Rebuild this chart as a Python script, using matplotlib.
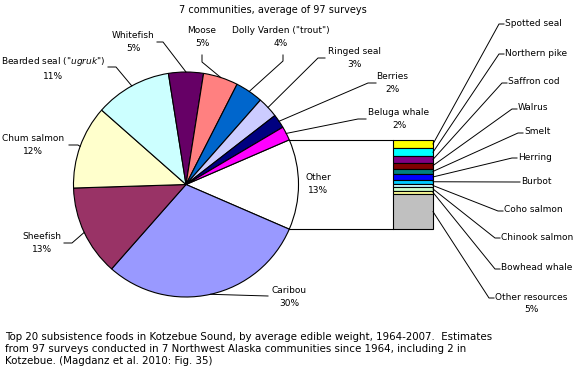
import numpy as np
import matplotlib

matplotlib.use("Agg")
import matplotlib.pyplot as plt

# main pie, clockwise, starting with the "Other" slice centred at 3 o'clock
pie_labels = ["Other", "Caribou", "Sheefish", "Chum salmon", 'Bearded seal ("$\\it{ugruk}$")',
              "Whitefish", "Moose", 'Dolly Varden ("trout")', "Ringed seal", "Berries", "Beluga whale"]
pie_values = [13, 30, 13, 12, 11, 5, 5, 4, 3, 2, 2]
pie_colors = ["#FFFFFF", "#9999FF", "#993366", "#FFFFCC", "#CCFFFF", "#660066",
              "#FF8080", "#0066CC", "#CCCCFF", "#000080", "#FF00FF"]

# breakdown of "Other", top to bottom of the stacked bar
sub_labels = ["Spotted seal", "Northern pike", "Saffron cod", "Walrus", "Smelt", "Herring",
              "Burbot", "Coho salmon", "Chinook salmon", "Bowhead whale", "Other resources"]
sub_values = [1.2, 1.2, 0.9, 0.9, 0.8, 0.8, 0.6, 0.5, 0.5, 0.5, 5.1]
sub_colors = ["#FFFF00", "#00FFFF", "#800080", "#800000", "#008080", "#0000FF",
              "#00CCFF", "#CCFFFF", "#CCFFCC", "#FFFF99", "#C0C0C0"]

title = "7 communities, average of 97 surveys"
caption = ("Top 20 subsistence foods in Kotzebue Sound, by average edible weight, 1964-2007.  Estimates\n"
           "from 97 surveys conducted in 7 Northwest Alaska communities since 1964, including 2 in\n"
           "Kotzebue. (Magdanz et al. 2010: Fig. 35)")

W, H = 579, 375
LW = 0.8
FS = 6.5


def px(x, y):
    # pixel position (origin top-left) -> data coords
    return x, H - y


fig = plt.figure(figsize=(W / 100, H / 100), dpi=100)
ax = fig.add_axes([0, 0, 1, 1])

cx, cy = px(186, 184.5)
R = 112.5
total = sum(pie_values)
start = 360 * pie_values[0] / total / 2
wedges, _ = ax.pie(pie_values, colors=pie_colors, startangle=start, counterclock=False,
                   center=(cx, cy), radius=R,
                   wedgeprops=dict(edgecolor="black", linewidth=LW))

# leader layout for main pie labels: text centre, then path from near-wedge to text (pixels)
main_layout = {
    "Other": ((318, 184), None),
    "Caribou": ((289, 297), [(268, 296)]),
    "Sheefish": ((42, 243), [(72, 243), (64, 243)]),
    "Chum salmon": ((33, 145), [(78, 145), (69, 145)]),
    'Bearded seal ("$\\it{ugruk}$")': ((53, 68), [(116, 67), (108, 67)]),
    "Whitefish": ((133, 42), [(163, 42), (157, 42)]),
    "Moose": ((202, 37), [(202, 62), (202, 55)]),
    'Dolly Varden ("trout")': ((281, 37), [(283, 61), (283, 55)]),
    "Ringed seal": ((354, 58), [(318, 58), (325, 58)]),
    "Berries": ((392, 83), [(368, 83), (376, 83)]),
    "Beluga whale": ((399, 119), [(358, 119), (366, 119)]),
}

for w, lab, val in zip(wedges, pie_labels, pie_values):
    (tx, ty), path = main_layout[lab]
    ax.text(*px(tx, ty), f"{lab}\n{round(100 * val / total)}%", ha="center", va="center",
            fontsize=FS, linespacing=1.45)
    if path:
        mid = np.deg2rad((w.theta1 + w.theta2) / 2)
        xs = [cx + R * np.cos(mid)] + [px(*p)[0] for p in path]
        ys = [cy + R * np.sin(mid)] + [px(*p)[1] for p in path]
        ax.plot(xs, ys, color="black", lw=0.7)

# stacked bar for the "Other" slice
other = wedges[0]
t1, t2 = np.deg2rad(other.theta1), np.deg2rad(other.theta2)
top_y = cy + R * np.sin(t2)
bot_y = cy + R * np.sin(t1)
bar_left, bar_w = 393, 40
scale = (top_y - bot_y) / sum(sub_values)
heights = np.array(sub_values) * scale
bottoms = top_y - np.cumsum(heights)
ax.bar([bar_left + bar_w / 2] * len(sub_values), heights, bottom=bottoms, width=bar_w,
       color=sub_colors, edgecolor="black", linewidth=LW)
ax.plot([cx + R * np.cos(t2), bar_left], [top_y, top_y], color="black", lw=LW)
ax.plot([cx + R * np.cos(t1), bar_left], [bot_y, bot_y], color="black", lw=LW)

# right-hand labels: left edge x, first-line centre y (pixels)
sub_layout = [(505, 24), (505, 54), (508, 83), (518, 109), (524, 133), (518, 158),
              (521, 182), (504, 211), (501, 238), (501, 269), (495, 298)]
sub_total = sum(sub_values)
for lab, val, b, h, (tx, ty) in zip(sub_labels, sub_values, bottoms, heights, sub_layout):
    s = lab
    if val >= 2:
        s += f"\n{round(100 * val / (sub_total / pie_values[0] * total))}%"
    x, y = px(tx, ty)
    ax.text(x, y + 5.5, s, ha="left", va="top", multialignment="center",
            fontsize=FS, linespacing=1.45)
    ax.plot([bar_left + bar_w, x - 6, x - 1], [b + h / 2, y, y], color="black", lw=0.7)

ax.text(*px(273, 10), title, ha="center", va="center", fontsize=7.0)
ax.text(*px(5, 332), caption, ha="left", va="top", fontsize=7.4, linespacing=1.22)

ax.set_xlim(0, W)
ax.set_ylim(0, H)
ax.set_aspect("equal")
ax.axis("off")

fig.savefig("out.png", dpi=100, facecolor="white")
